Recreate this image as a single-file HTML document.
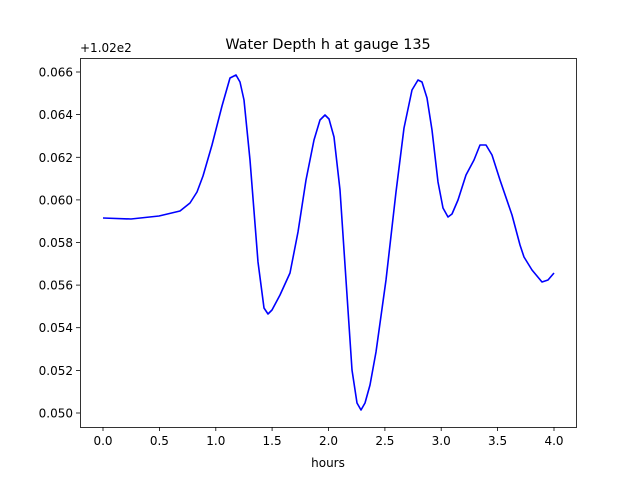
<!DOCTYPE html>
<html><head><meta charset="utf-8"><style>body{margin:0;background:#fff}svg{display:block}text{font-family:"DejaVu Sans","Liberation Sans",sans-serif;fill:#000}</style></head><body>
<svg width="640" height="480" xmlns="http://www.w3.org/2000/svg">
<rect width="640" height="480" fill="#fff"/>
<text x="328" y="49" font-size="14.4" text-anchor="middle">Water Depth h at gauge 135</text>
<text x="80" y="52" font-size="12">+1.02e2</text>
<polyline fill="none" stroke="#0000ff" stroke-width="1.6" stroke-linejoin="round" points="103,218 131,219 159,216 180,211 190,203 197,192 203,176 212,145 222,106 230,78 236,75 240,82 244,100 250,160 258,262 264,308 268,314 272,310 280,295 290,273 298,232 306,180 314,140 320,120 325,115 329,119 334,137 340,190 346,280 352,370 357,403 361,410 365,403 370,385 376,352 386,280 396,192 404,128 412,90 418,80 422,82 427,98 432,130 438,182 443,208 448,217 452,214 458,200 466,175 474,160 480,145 486,145 492,155 500,180 512,215 520,245 524,257 532,270 542,282 548,280 554,273"/>
<rect x="80.5" y="58.5" width="496" height="369" fill="none" stroke="#000" stroke-width="0.8"/>
<g stroke="#000" stroke-width="0.8">
<line x1="103" y1="427" x2="103" y2="431"/><line x1="159.4" y1="427" x2="159.4" y2="431"/><line x1="215.8" y1="427" x2="215.8" y2="431"/><line x1="272.1" y1="427" x2="272.1" y2="431"/><line x1="328.5" y1="427" x2="328.5" y2="431"/><line x1="384.9" y1="427" x2="384.9" y2="431"/><line x1="441.2" y1="427" x2="441.2" y2="431"/><line x1="497.6" y1="427" x2="497.6" y2="431"/><line x1="554" y1="427" x2="554" y2="431"/>
<line x1="76" y1="413" x2="80" y2="413"/><line x1="76" y1="370.4" x2="80" y2="370.4"/><line x1="76" y1="327.7" x2="80" y2="327.7"/><line x1="76" y1="285.1" x2="80" y2="285.1"/><line x1="76" y1="242.5" x2="80" y2="242.5"/><line x1="76" y1="199.9" x2="80" y2="199.9"/><line x1="76" y1="157.3" x2="80" y2="157.3"/><line x1="76" y1="114.6" x2="80" y2="114.6"/><line x1="76" y1="72" x2="80" y2="72"/>
</g>
<g font-size="12" text-anchor="middle">
<text x="103" y="445">0.0</text><text x="159.4" y="445">0.5</text><text x="215.8" y="445">1.0</text><text x="272.1" y="445">1.5</text><text x="328.5" y="445">2.0</text><text x="384.9" y="445">2.5</text><text x="441.2" y="445">3.0</text><text x="497.6" y="445">3.5</text><text x="554" y="445">4.0</text>
<text x="328" y="467">hours</text>
</g>
<g font-size="12" text-anchor="end">
<text x="73" y="417.5">0.050</text><text x="73" y="374.9">0.052</text><text x="73" y="332.2">0.054</text><text x="73" y="289.6">0.056</text><text x="73" y="247">0.058</text><text x="73" y="204.4">0.060</text><text x="73" y="161.8">0.062</text><text x="73" y="119.1">0.064</text><text x="73" y="76.5">0.066</text>
</g>
</svg>
</body></html>
